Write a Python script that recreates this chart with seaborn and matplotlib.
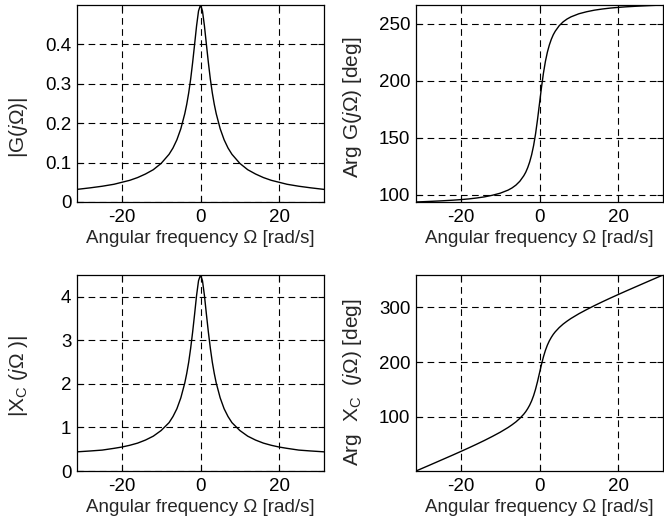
import matplotlib
matplotlib.use("Agg")
import matplotlib.pyplot as plt
import seaborn as sns
import pandas as pd

# Angular frequency samples [rad/s]
omega = [-31.4, -28, -25, -22, -20, -18, -16, -14, -12, -10, -8, -7, -6, -5,
         -4, -3.5, -3, -2.5, -2, -1.5, -1, -0.5, 0, 0.5, 1, 1.5, 2, 2.5, 3,
         3.5, 4, 5, 6, 7, 8, 10, 12, 14, 16, 18, 20, 22, 25, 28, 31.4]

# |G(jΩ)|
g_mag = [0.032, 0.036, 0.040, 0.045, 0.050, 0.055, 0.062, 0.071, 0.082, 0.098,
         0.121, 0.137, 0.158, 0.186, 0.224, 0.248, 0.277, 0.312, 0.354, 0.400,
         0.447, 0.485, 0.500, 0.485, 0.447, 0.400, 0.354, 0.312, 0.277, 0.248,
         0.224, 0.186, 0.158, 0.137, 0.121, 0.098, 0.082, 0.071, 0.062, 0.055,
         0.050, 0.045, 0.040, 0.036, 0.032]

# Arg G(jΩ) [deg]
g_arg = [93.6, 94.1, 94.6, 95.2, 95.7, 96.3, 97.1, 98.1, 99.5, 101.3, 104.0,
         105.9, 108.4, 111.8, 116.6, 119.7, 123.7, 128.7, 135.0, 143.1, 153.4,
         166.0, 180.0, 194.0, 206.6, 216.9, 225.0, 231.3, 236.3, 240.3, 243.4,
         248.2, 251.6, 254.1, 256.0, 258.7, 260.5, 261.9, 262.9, 263.7, 264.3,
         264.8, 265.4, 265.9, 266.4]

# |X_C(jΩ)|
xc_mag = [0.44, 0.46, 0.48, 0.52, 0.55, 0.59, 0.64, 0.71, 0.80, 0.93, 1.11,
          1.25, 1.43, 1.68, 2.02, 2.24, 2.50, 2.82, 3.19, 3.60, 4.03, 4.37,
          4.50, 4.37, 4.03, 3.60, 3.19, 2.82, 2.50, 2.24, 2.02, 1.68, 1.43,
          1.25, 1.11, 0.93, 0.80, 0.71, 0.64, 0.59, 0.55, 0.52, 0.48, 0.46,
          0.44]

# Arg X_C(jΩ) [deg]
xc_arg = [1.0, 11.5, 20.9, 30.3, 36.7, 43.2, 49.9, 56.8, 64.1, 71.8, 80.4,
          85.3, 90.7, 97.1, 104.8, 109.4, 114.9, 121.3, 129.1, 138.7, 150.5,
          164.5, 180.0, 195.5, 209.5, 221.3, 230.9, 238.7, 245.1, 250.6,
          255.2, 262.9, 269.3, 274.7, 279.6, 288.2, 295.9, 303.2, 310.1,
          316.8, 323.3, 329.7, 339.1, 348.5, 359.0]

x_ticks = [-20, 0, 20]
g_mag_ticks = [0, 0.1, 0.2, 0.3, 0.4]
g_arg_ticks = [100, 150, 200, 250]
xc_mag_ticks = [0, 1, 2, 3, 4]
xc_arg_ticks = [100, 200, 300]

xlabel = "Angular frequency Ω [rad/s]"
ylabels = [
    "|G($\\it{j}$Ω)|",
    "Arg G($\\it{j}$Ω) [deg]",
    "|X$_{\\mathrm{C}}$ ($\\it{j}$Ω )|",
    "Arg  X$_{\\mathrm{C}}$  ($\\it{j}$Ω) [deg]",
]

df = pd.DataFrame({"omega": omega, "g_mag": g_mag, "g_arg": g_arg,
                   "xc_mag": xc_mag, "xc_arg": xc_arg})

FS = 13.5
YFS = 15

sns.set_theme(style="ticks")
plt.rcParams.update({
    "font.family": ["Liberation Sans", "DejaVu Sans"],
    "font.size": FS,
    "mathtext.fontset": "custom",
    "mathtext.rm": "Liberation Sans",
    "mathtext.it": "Liberation Sans:italic",
    "mathtext.bf": "Liberation Sans:bold",
    "axes.unicode_minus": False,
    "axes.edgecolor": "black",
    "axes.linewidth": 0.9,
    "xtick.direction": "in",
    "ytick.direction": "in",
    "xtick.top": True,
    "ytick.right": True,
    "xtick.major.size": 4,
    "ytick.major.size": 4,
    "xtick.major.width": 0.8,
    "ytick.major.width": 0.8,
    "xtick.color": "black",
    "ytick.color": "black",
    "xtick.labelsize": FS,
    "ytick.labelsize": FS,
})

W, H = 664, 521
fig = plt.figure(figsize=(W / 100, H / 100), dpi=100)

# Axes boxes in pixels: left, top, right, bottom
boxes = [
    (77, 5, 324, 202),
    (416, 5, 663, 202),
    (77, 275, 324, 471),
    (416, 275, 663, 471),
]
cols = ["g_mag", "g_arg", "xc_mag", "xc_arg"]
yticks = [g_mag_ticks, g_arg_ticks, xc_mag_ticks, xc_arg_ticks]
ylims = [(0, max(g_mag)), (min(g_arg), max(g_arg)),
         (0, max(xc_mag)), (min(xc_arg), max(xc_arg))]
# y-label centre positions in pixels (x, y)
ylabel_pos = [(19, 127), (352, 107), (18, 376), (352, 382)]

for box, col, yt, yl, lab, lp in zip(boxes, cols, yticks, ylims, ylabels, ylabel_pos):
    l, t, r, b = box
    ax = fig.add_axes([l / W, 1 - b / H, (r - l) / W, (b - t) / H])
    sns.lineplot(data=df, x="omega", y=col, ax=ax, color="black",
                 linewidth=1.0, sort=False)
    ax.set_xlim(min(omega), max(omega))
    ax.set_ylim(*yl)
    ax.set_xticks(x_ticks)
    ax.set_yticks(yt)
    ax.set_yticklabels([f"{v:g}" for v in yt])
    ax.grid(True, color="black", linestyle=(0, (6, 4)), linewidth=0.8)
    ax.set_axisbelow(True)
    ax.set_xlabel(xlabel, fontsize=FS, labelpad=3)
    ax.set_ylabel(lab, fontsize=YFS, va="center")
    ax.yaxis.set_label_coords((lp[0] - l) / (r - l), (b - lp[1]) / (b - t))
    ax.tick_params(axis="x", pad=5)
    ax.tick_params(axis="y", pad=4)
    for s in ax.spines.values():
        s.set_visible(True)

fig.savefig("out.png", dpi=100)
